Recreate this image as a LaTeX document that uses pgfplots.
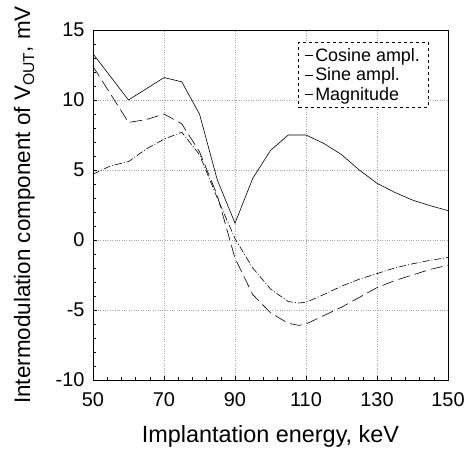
\documentclass[border=0pt]{standalone}
\usepackage{pgfplots}
\pgfplotsset{compat=1.18}
\usepackage{fontspec}
\setmainfont{Liberation Sans}

\begin{document}
\begin{tikzpicture}
\begin{axis}[
  name=ax,
  scale only axis=true,
  width=355bp, height=350bp,
  xmin=50, xmax=150, ymin=-10, ymax=15,
  xtick={50,70,...,150},
  ytick={-10,-5,...,15},
  minor x tick num=4,
  minor y tick num=4,
  tick pos=left,
  tick align=inside,
  major tick length=4bp,
  minor tick length=3bp,
  axis line style={line width=0.6bp},
  every tick/.style={black, line width=0.5bp},
  grid=major,
  grid style={gray!70, dotted, line width=0.6bp},
  /pgf/number format/assume math mode=true,
  tick label style={font=\fontsize{20}{22}\selectfont},
  xticklabel style={yshift=-9bp},
  yticklabel style={xshift=-5bp},
  xlabel style={font=\fontsize{23.5}{26}\selectfont, yshift=-12bp},
  ylabel style={font=\fontsize{22.5}{25}\selectfont, yshift=14bp},
  xlabel={Implantation energy, keV},
  ylabel={Intermodulation component of V\textsubscript{OUT}, mV},
  legend style={at={(0.944,0.966)}, anchor=north east, draw=black, dashed,
    font=\fontsize{18}{20}\selectfont, inner xsep=6bp, inner ysep=4bp,
    row sep=1bp, cells={anchor=west}},
  legend image code/.code={\draw[#1, solid] (0bp,0bp) -- (8bp,0bp);},
]
\addplot[black, line width=0.6bp] coordinates {
  (50,13.3)(60,10.0)(70,11.6)(75,11.3)(80,9.0)(85,4.3)(90,1.2)(95,4.4)
  (100,6.4)(105,7.5)(110,7.5)(115,6.9)(120,6.1)(125,5.0)(130,4.05)
  (135,3.4)(140,2.85)(145,2.45)(150,2.1)
};
\addlegendentry{Cosine ampl.}
\addplot[black, line width=0.6bp, dash pattern=on 12bp off 5bp] coordinates {
  (50,12.4)(55,10.4)(60,8.4)(65,8.6)(70,9.0)(75,8.3)(80,6.3)(85,3.2)
  (90,-1.3)(95,-3.9)(100,-5.2)(105,-5.95)(108,-6.1)(110,-6.0)(115,-5.4)
  (120,-4.8)(125,-4.1)(130,-3.4)(135,-2.9)(140,-2.5)(145,-2.1)(150,-1.8)
};
\addlegendentry{Sine ampl.}
\addplot[black, line width=0.6bp, dash pattern=on 7bp off 2bp on 1bp off 2bp] coordinates {
  (50,4.7)(55,5.3)(60,5.6)(65,6.5)(70,7.2)(75,7.7)(80,6.1)(85,3.0)
  (90,0.1)(95,-2.0)(100,-3.5)(105,-4.4)(108,-4.5)(110,-4.45)(115,-3.9)
  (120,-3.3)(125,-2.8)(130,-2.4)(135,-2.0)(140,-1.7)(145,-1.45)(150,-1.25)
};
\addlegendentry{Magnitude}
\end{axis}
\useasboundingbox ([shift={(-93bp,-73bp)}]ax.south west) rectangle ([shift={(22bp,30bp)}]ax.north east);
\end{tikzpicture}
\end{document}
